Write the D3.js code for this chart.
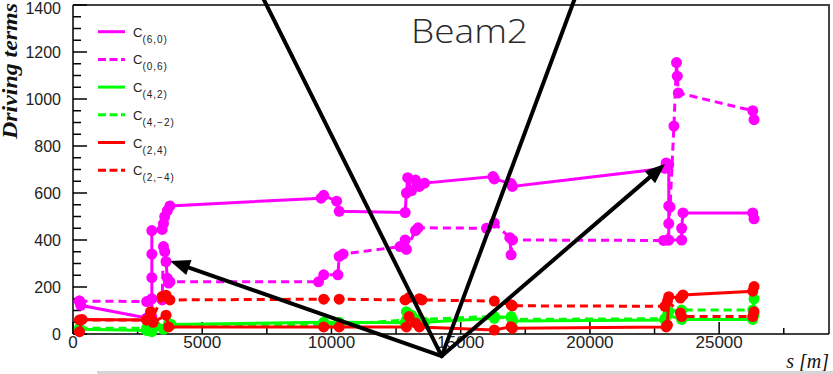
<!DOCTYPE html>
<html>
<head>
<meta charset="utf-8">
<script src="https://cdn.jsdelivr.net/npm/d3@7"></script>
<style>
  html, body { margin: 0; padding: 0; background: #fff; }
  svg { display: block; }
</style>
</head>
<body>
<svg id="chart" width="833" height="374"></svg>
<script>
// Resonance driving terms along the ring, Beam2. Each point is [s in metres, value].
const c60 = [
  [250, 140], [300, 122], [2850, 68], [3050, 72], [3050, 150], [3050, 240], [3050, 340], [3050, 440],
  [3450, 445], [3500, 470], [3550, 500], [3650, 525], [3750, 545],
  [9600, 578], [9700, 590], [10200, 565], [10300, 522], [12850, 517], [12900, 600], [12950, 665],
  [13100, 610], [13250, 655], [13400, 628], [13600, 642], [16250, 670], [16300, 660],
  [16950, 640], [17000, 628], [22900, 705], [22950, 728], [23050, 720], [23050, 545],
  [23050, 470], [23050, 400], [23550, 400], [23550, 450], [23600, 515], [26300, 515], [26350, 490]
];
const c06 = [
  [250, 140], [2850, 138], [3450, 145], [3500, 372], [3550, 351], [3600, 308], [3650, 237],
  [3700, 217], [3750, 222], [9500, 222], [9700, 252], [10250, 252], [10300, 330], [10450, 340],
  [12650, 372], [12850, 400], [12900, 360], [13250, 440], [13350, 452], [16000, 450],
  [16300, 472], [16900, 410], [16950, 337], [17000, 400], [22850, 398], [23000, 400],
  [23100, 540], [23250, 885], [23350, 1155], [23380, 1097], [23420, 1026], [26300, 950], [26350, 912]
];
const c42 = [
  [250, 20], [2850, 15], [3050, 10], [3200, 35], [3500, 20], [3700, 45], [3800, 40],
  [9700, 50], [10300, 50], [12850, 48], [12900, 95], [13100, 80], [13400, 55], [13600, 50],
  [16300, 67], [16950, 74], [17000, 55], [22900, 60], [23000, 81], [23550, 62],
  [26300, 62], [26350, 150]
];
const c4m2 = [
  [250, 25], [2850, 25], [3050, 30], [3700, 40], [9700, 40], [10300, 40], [12900, 60],
  [13400, 62], [16300, 75], [16950, 70], [17000, 62], [22900, 65], [23050, 95], [23550, 102],
  [26300, 102], [26350, 80]
];
const c24 = [
  [250, 10], [350, 62], [2850, 60], [3000, 95], [3100, 50], [3600, 80], [3700, 30],
  [9700, 30], [10300, 30], [12900, 30], [13000, 74], [13250, 47], [13400, 30], [16300, 17],
  [16950, 31], [17000, 25], [22950, 30], [23000, 38], [23050, 159], [23500, 153], [23600, 166],
  [26300, 182], [26350, 202]
];
const c2m4 = [
  [250, 60], [2850, 60], [3050, 60], [3450, 160], [3600, 165], [3750, 145], [9700, 148],
  [10300, 148], [12850, 145], [13000, 155], [13400, 150], [13500, 145], [16300, 140],
  [16950, 125], [17000, 120], [22900, 118], [23000, 140], [23500, 89], [23550, 74],
  [26300, 74], [26350, 95]
];

const legendNames = [["C", "(6,0)"], ["C", "(0,6)"], ["C", "(4,2)"], ["C", "(4,\u22122)"], ["C", "(2,4)"], ["C", "(2,\u22124)"]];
const yTickValues = [0, 200, 400, 600, 800, 1000, 1200, 1400];
const xTickValues = [0, 5000, 10000, 15000, 20000, 25000];

// Pointer annotation, in data coordinates: a common base and rays / arrows fanning out of it
const pointerBase = [14265, -94];
const pointerRays = [[7351, 1430], [19423, 1430]];
const pointerArrows = [[3753, 311], [22905, 723]];

const seriesData = [c60, c06, c42, c4m2, c24, c2m4];
const seriesStyle = [
  { color: "#ff00ff", dash: null },
  { color: "#ff00ff", dash: "8,5" },
  { color: "#00ff00", dash: null },
  { color: "#00ff00", dash: "8,5" },
  { color: "#ff0000", dash: null },
  { color: "#ff0000", dash: "8,5" }
];

const svg = d3.select("#chart");
const frame = { left: 73, right: 829, top: 5, bottom: 334 };

const x = d3.scaleLinear().domain([0, 29250]).range([frame.left, frame.right]);
const y = d3.scaleLinear().domain([0, 1400]).range([frame.bottom, frame.top]);

// Frame (top and right sides)
svg.append("path")
  .attr("d", `M${frame.left},${frame.top}H${frame.right}V${frame.bottom}`)
  .attr("fill", "none").attr("stroke", "#444").attr("stroke-width", 2);

// Y axis with inward ticks
const yMinor = d3.range(0, 1401, 50).filter(v => v % 200 !== 0);
const yAxis = svg.append("g").attr("transform", `translate(${frame.left},0)`);
yAxis.append("line").attr("y1", frame.top).attr("y2", frame.bottom).attr("stroke", "#000").attr("stroke-width", 1.5);
yAxis.selectAll(".maj").data(yTickValues).join("line")
  .attr("x1", 0).attr("x2", 14).attr("y1", d => y(d)).attr("y2", d => y(d))
  .attr("stroke", "#000").attr("stroke-width", 1.5);
yAxis.selectAll(".min").data(yMinor).join("line")
  .attr("x1", 0).attr("x2", 8).attr("y1", d => y(d)).attr("y2", d => y(d))
  .attr("stroke", "#000").attr("stroke-width", 1.5);
// top label kept just inside the canvas
yAxis.selectAll("text").data(yTickValues).join("text")
  .attr("x", -12).attr("y", d => Math.max(y(d) + 5.8, 13.5))
  .attr("text-anchor", "end")
  .attr("font-family", "Liberation Sans, Arial, sans-serif")
  .attr("font-size", 16).attr("fill", "#222")
  .text(d => d);

// X axis with inward ticks
const xMinor = d3.range(2500, 29250, 5000);
const xAxis = svg.append("g").attr("transform", `translate(0,${frame.bottom})`);
xAxis.append("line").attr("x1", frame.left).attr("x2", frame.right).attr("stroke", "#000").attr("stroke-width", 1.5);
xAxis.selectAll(".maj").data(xTickValues).join("line")
  .attr("x1", d => x(d)).attr("x2", d => x(d)).attr("y1", 0).attr("y2", -12)
  .attr("stroke", "#000").attr("stroke-width", 1.5);
xAxis.selectAll(".min").data(xMinor).join("line")
  .attr("x1", d => x(d)).attr("x2", d => x(d)).attr("y1", 0).attr("y2", -6)
  .attr("stroke", "#000").attr("stroke-width", 1.5);
xAxis.selectAll("text").data(xTickValues).join("text")
  .attr("x", d => x(d)).attr("y", 14)
  .attr("text-anchor", "middle")
  .attr("font-family", "Liberation Sans, Arial, sans-serif")
  .attr("font-size", 17).attr("fill", "#222")
  .text(d => d);

// Axis titles
svg.append("text")
  .attr("transform", "translate(17,139) rotate(-90)")
  .attr("font-family", "Liberation Serif, Times New Roman, serif")
  .attr("font-style", "italic").attr("font-weight", "bold")
  .attr("font-size", 20).attr("fill", "#111")
  .attr("textLength", 136).attr("lengthAdjust", "spacingAndGlyphs")
  .text("Driving terms");

svg.append("text")
  .attr("x", 829).attr("y", 368)
  .attr("text-anchor", "end")
  .attr("font-family", "Liberation Serif, Times New Roman, serif")
  .attr("font-style", "italic")
  .attr("font-size", 20).attr("fill", "#111")
  .text("s [m]");

// Title
svg.append("text")
  .attr("x", 411).attr("y", 43)
  .attr("font-family", "Open Sans, Liberation Sans, sans-serif")
  .attr("font-weight", 300)
  .attr("font-size", 33).attr("fill", "#2a2a2a")
  .attr("textLength", 117).attr("lengthAdjust", "spacingAndGlyphs")
  .text("Beam2");

// Series: lines then markers, drawn in order so red ends up on top
const line = d3.line().x(d => x(d[0])).y(d => y(d[1]));
seriesData.forEach((pts, i) => {
  const st = seriesStyle[i];
  const g = svg.append("g");
  g.append("path")
    .attr("d", line(pts))
    .attr("fill", "none")
    .attr("stroke", st.color)
    .attr("stroke-width", 3)
    .attr("stroke-dasharray", st.dash);
  g.selectAll("circle").data(pts).join("circle")
    .attr("cx", d => x(d[0])).attr("cy", d => y(d[1]))
    .attr("r", 5.5)
    .attr("fill", st.color);
});

// Legend
const legend = svg.append("g");
legendNames.forEach((nm, i) => {
  const ly = 31.7 + i * 27.7;
  const st = seriesStyle[i];
  legend.append("line")
    .attr("x1", 98).attr("x2", 125).attr("y1", ly).attr("y2", ly)
    .attr("stroke", st.color).attr("stroke-width", 3)
    .attr("stroke-dasharray", st.dash ? "8,3.5" : null);
  const t = legend.append("text")
    .attr("x", 133).attr("y", ly + 5)
    .attr("font-family", "Liberation Sans, Arial, sans-serif")
    .attr("font-size", 13).attr("fill", "#222");
  t.append("tspan").text(nm[0]);
  t.append("tspan").attr("dy", 6).attr("font-size", 10).attr("letter-spacing", 1).text(nm[1]);
});

// Pointer annotation
const ann = svg.append("g");
const bx = x(pointerBase[0]), by = y(pointerBase[1]);
pointerRays.forEach(p => {
  ann.append("line")
    .attr("x1", bx).attr("y1", by).attr("x2", x(p[0])).attr("y2", y(p[1]))
    .attr("stroke", "#000").attr("stroke-width", 4).attr("stroke-linecap", "round");
});
pointerArrows.forEach(p => {
  const tx = x(p[0]), ty = y(p[1]);
  const ang = Math.atan2(ty - by, tx - bx);
  const headLen = 20, headHalf = 8;
  const ex = tx - headLen * Math.cos(ang), ey = ty - headLen * Math.sin(ang);
  ann.append("line")
    .attr("x1", bx).attr("y1", by).attr("x2", ex).attr("y2", ey)
    .attr("stroke", "#000").attr("stroke-width", 4).attr("stroke-linecap", "round");
  const px = -Math.sin(ang), py = Math.cos(ang);
  ann.append("path")
    .attr("d", `M${tx},${ty}L${ex + px * headHalf},${ey + py * headHalf}L${ex - px * headHalf},${ey - py * headHalf}Z`)
    .attr("fill", "#000");
});

// Grey strip along the bottom edge
svg.append("rect")
  .attr("x", 97).attr("y", 371).attr("width", 736).attr("height", 3)
  .attr("fill", "#d6d6d6");
</script>
</body>
</html>
